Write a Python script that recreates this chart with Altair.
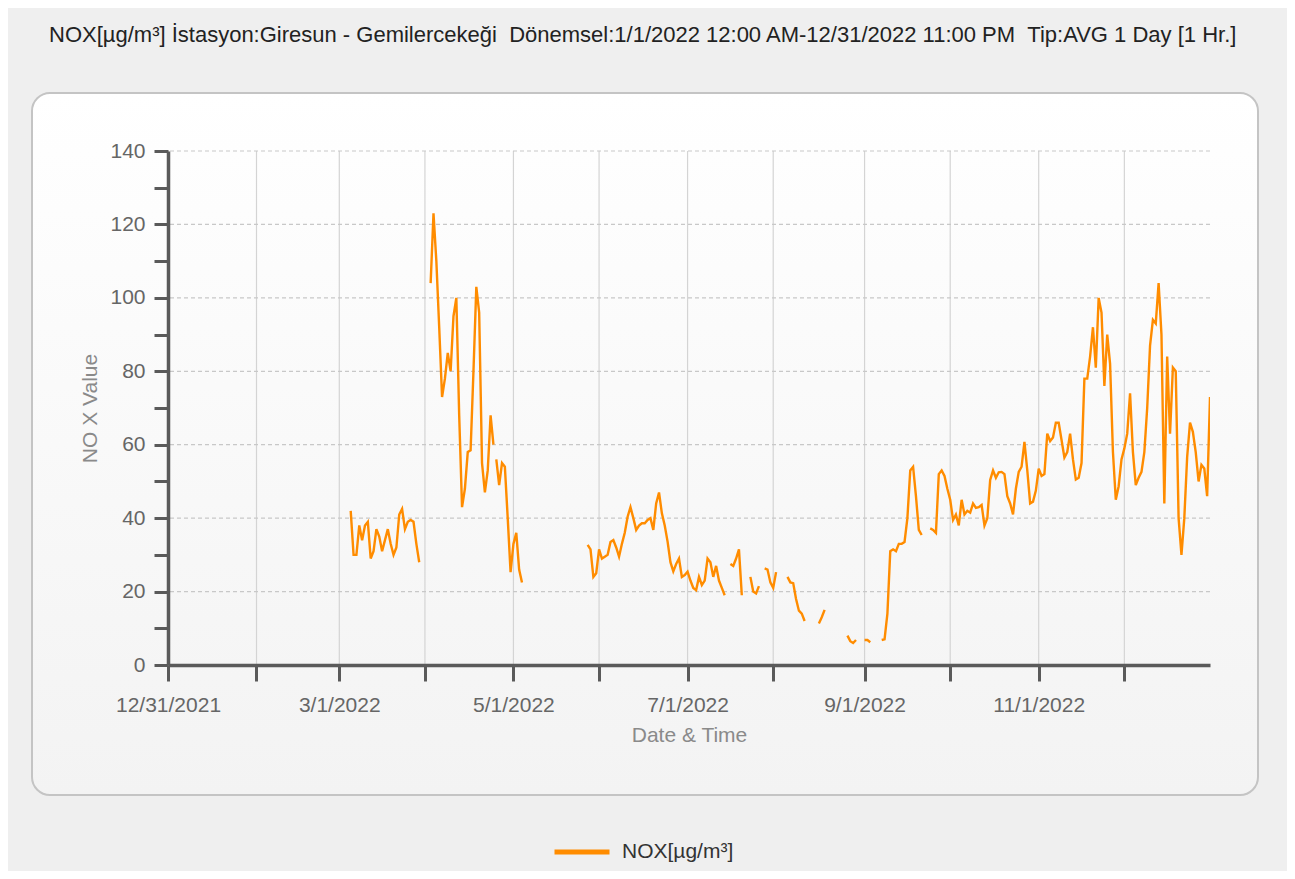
import altair as alt
import pandas as pd

# ---------------- text ----------------
title_text = ("NOX[µg/m³] İstasyon:Giresun - Gemilercekeği \u00a0Dönemsel:1/1/2022 12:00 AM-12/31/2022 11:00 PM"
              " \u00a0Tip:AVG 1 Day [1 Hr.]")
series_name = "NOX[µg/m³]"
x_title = "Date & Time"
y_title = "NO X Value"

# ---------------- data (daily averages, gaps = missing days) ----------------
seg_starts = ["2022-03-05", "2022-04-02", "2022-04-25", "2022-05-27", "2022-07-16", "2022-07-23",
              "2022-07-28", "2022-08-05", "2022-08-16", "2022-08-26", "2022-09-01", "2022-09-07",
              "2022-09-24"]

seg_mar = [42, 30, 30, 38, 34, 38, 39, 29, 31, 37, 35, 31, 34, 37, 33, 30, 32, 41, 42.5, 37, 39, 39.5,
           39, 33, 28]
seg_apr_a = [104, 123, 110, 92, 73, 78, 85, 80, 95, 100, 68, 43, 48, 58, 58.5, 80, 103, 96, 55, 47, 53,
             68, 60]
seg_apr_b = [56, 49, 55, 54, 40, 25.3, 33, 36, 26, 22.5]
seg_summer = [32.7, 31.5, 24, 25, 31.5, 29, 29.5, 30, 33.5, 34, 32, 29.5, 33, 36, 40.4, 43, 40, 36.8,
              38, 38.6, 38.6, 39.5, 40, 36.8, 44, 47, 41.3, 38, 33.6, 28, 25.5, 27.5, 29, 24, 24.5,
              25.4, 23, 21, 20.4, 24, 21.8, 23, 29, 28, 24, 27, 23, 21, 19]
seg_jul_a = [27.5, 27, 29, 31.5, 19]
seg_jul_b = [24, 20, 19.5, 21.5]
seg_jul_c = [26.3, 26, 22.5, 21, 25.3]
seg_aug_a = [24, 22.5, 22.3, 18, 14.8, 14, 12]
seg_aug_b = [11.3, 13, 15]
seg_aug_c = [8, 6.5, 6, 6.8]
seg_sep_a = [6.8, 6.8, 6.2]
seg_sep_b = [6.8, 7, 14, 31, 31.5, 31, 33, 33, 33.5, 40, 53, 54, 46, 36.8, 35.4]
seg_autumn = [37.2, 36.8, 36, 52, 53, 51.5, 48, 45, 39.5, 41, 38, 45, 41, 42,
              41.5, 44, 42.8, 43, 43.6, 38, 40, 50.4, 53, 51, 52.5, 52.6, 52, 46, 44, 41, 48, 52.6,
              54, 60.8,
              53, 44, 44.5, 47.5, 53.5, 51.5, 52, 63, 61, 62, 66, 66, 61.3, 56.5, 58, 63, 56, 50.5,
              51, 55,
              78, 78, 84, 92, 81, 100, 96, 76, 90, 82, 58, 45, 48.7, 56, 59, 63, 74, 58, 49, 51,
              52.6, 58, 70, 87, 94, 93, 104, 90, 44, 84, 63, 81, 80, 40, 30, 40, 56.7, 66, 63.5,
              58, 50, 54.5, 53.5, 46, 73]

seg_values = [seg_mar, seg_apr_a, seg_apr_b, seg_summer, seg_jul_a, seg_jul_b, seg_jul_c,
              seg_aug_a, seg_aug_b, seg_aug_c, seg_sep_a, seg_sep_b, seg_autumn]

x_tick_dates = ["2021-12-31", "2022-01-31", "2022-03-01", "2022-03-31", "2022-05-01", "2022-05-31",
                "2022-07-01", "2022-07-31", "2022-09-01", "2022-10-01", "2022-11-01", "2022-12-01"]
x_labels = ["12/31/2021", "3/1/2022", "5/1/2022", "7/1/2022", "9/1/2022", "11/1/2022"]
y_ticks = list(range(0, 150, 10))
y_grid = [20, 40, 60, 80, 100, 120, 140]

# ---------------- build table ----------------
rows = []
for k, (start, vals) in enumerate(zip(seg_starts, seg_values)):
    t0 = pd.Timestamp(start)
    for i, v in enumerate(vals):
        rows.append({"date": (t0 + pd.Timedelta(days=i)).strftime("%Y-%m-%dT%H:%M:%S"),
                     "value": v, "seg": k, "series": series_name})
df = pd.DataFrame(rows)


def dt(s):
    t = pd.Timestamp(s)
    return alt.DateTime(year=t.year, month=t.month, date=t.day)


FONT = "Liberation Sans"
x_scale = alt.Scale(domain=[dt("2021-12-31"), dt("2022-12-31")])
y_scale = alt.Scale(domain=[0, 140], nice=False, zero=True)

W, H = 1042, 514

label_list = "[" + ",".join("'%s'" % s for s in x_labels) + "]"
x_label_expr = ("indexof(%s, timeFormat(datum.value, '%%-m/%%-d/%%Y')) >= 0 ? "
                "timeFormat(datum.value, '%%-m/%%-d/%%Y') : ''") % label_list

x_axis = alt.Axis(values=[dt(s) for s in x_tick_dates], labelExpr=x_label_expr,
                  grid=False, labelOverlap=False, labelFlush=False, title=x_title,
                  domainColor="#5a5a5a", domainWidth=3.5, tickColor="#5a5a5a",
                  tickWidth=3, tickSize=16, labelPadding=13, labelFontSize=21,
                  labelColor="#666666", labelFont=FONT, titleFont=FONT,
                  titleFontSize=21, titleColor="#8a8a8a", titleFontWeight="normal",
                  titlePadding=9, zindex=1)
y_axis = alt.Axis(values=y_ticks, labelExpr="datum.value % 20 == 0 ? datum.label : ''",
                  grid=False, title=y_title, domainColor="#5a5a5a", domainWidth=3.5,
                  tickColor="#5a5a5a", tickWidth=3, tickSize=14, labelPadding=9,
                  labelFontSize=21, labelColor="#666666", labelFont=FONT,
                  titleFont=FONT, titleFontSize=21, titleColor="#8a8a8a",
                  titleFontWeight="normal", titlePadding=9, zindex=1)

panel = alt.Chart(pd.DataFrame({"p": [0]})).mark_rect(
    cornerRadius=18,
    fill=alt.LinearGradient(gradient="linear", x1=0, y1=0, x2=0, y2=1,
                            stops=[alt.GradientStop(color="#ffffff", offset=0),
                                   alt.GradientStop(color="#f3f3f3", offset=1)]),
    stroke="#c4c4c4", strokeWidth=2,
).encode(x=alt.value(-136), x2=alt.value(1090), y=alt.value(-58), y2=alt.value(644))

xgrid = alt.Chart(pd.DataFrame({"date": x_tick_dates})).mark_rule(
    color="#d4d4d4", strokeWidth=1.2
).encode(x=alt.X("date:T", scale=x_scale, axis=x_axis))

ygrid = alt.Chart(pd.DataFrame({"value": y_grid})).mark_rule(
    color="#c8c8c8", strokeWidth=1.2, strokeDash=[4, 3]
).encode(y=alt.Y("value:Q", scale=y_scale, axis=y_axis))

line = alt.Chart(df).mark_line(strokeWidth=2.4, clip=True).encode(
    x=alt.X("date:T", scale=x_scale, axis=x_axis),
    y=alt.Y("value:Q", scale=y_scale, axis=y_axis),
    color=alt.Color("series:N", scale=alt.Scale(range=["#ff8c00"]),
                    legend=alt.Legend(title=None, orient="none", legendX=384, legendY=671,
                                      symbolType="stroke", symbolSize=3025,
                                      symbolStrokeWidth=5, labelFont=FONT, labelFontSize=21,
                                      labelColor="#333333", labelOffset=10, padding=0)),
    detail="seg:N",
)

chart = alt.layer(panel, xgrid, ygrid, line).properties(
    width=W, height=H,
    title=alt.TitleParams(title_text, anchor="start", dx=18, offset=45, font=FONT,
                          fontSize=22, fontWeight="normal", color="#222222"),
    autosize=alt.AutoSizeParams(type="none"),
    padding={"left": 160, "top": 143, "right": 77, "bottom": 206},
).configure(background="#efefef").configure_view(stroke="transparent")

chart.save("out.html", embed_options={"renderer": "svg", "actions": False})
